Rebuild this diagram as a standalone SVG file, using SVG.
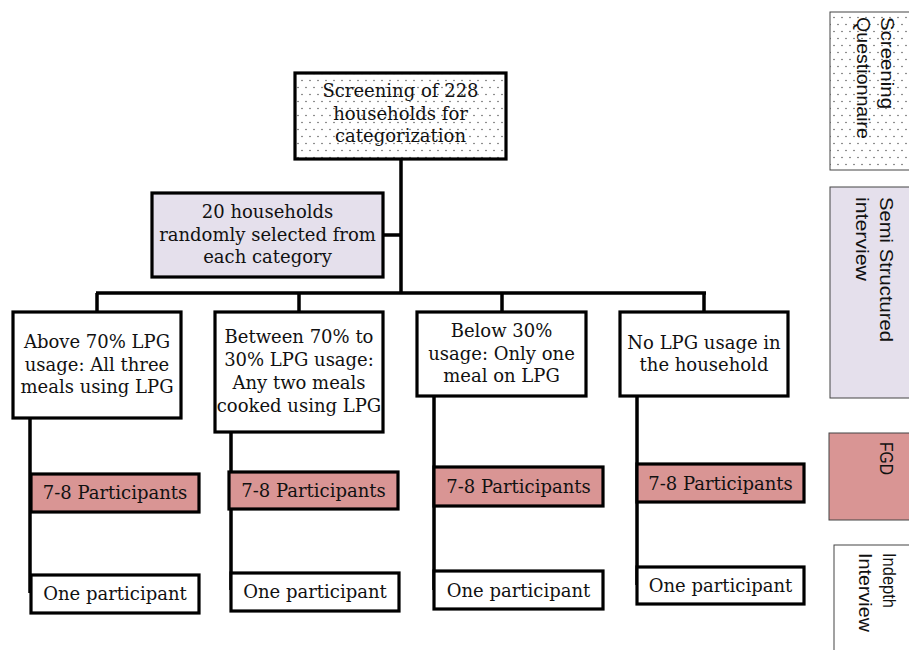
<svg xmlns="http://www.w3.org/2000/svg" width="909" height="650" viewBox="0 0 909 650">
<defs>
<pattern id="dots" width="8" height="14" patternUnits="userSpaceOnUse">
<rect width="8" height="14" fill="#fff"/>
<circle cx="2" cy="3.5" r="0.75" fill="#555"/>
<circle cx="6" cy="10.5" r="0.75" fill="#555"/>
</pattern>
</defs>
<style>
.box{stroke:#000;stroke-width:3.2;}
.w{fill:#fff;}
.lav{fill:#E5E0EC;}
.pink{fill:#D99594;}
.t{font-family:"DejaVu Serif","Liberation Serif",serif;font-size:18px;fill:#111;text-anchor:middle;}
.leg{stroke:#444;stroke-width:1;}
.lt{font-family:"Liberation Sans",Arial,sans-serif;font-size:18px;fill:#111;}
.c{fill:none;stroke:#000;stroke-width:3.5;}
</style>
<g id="connectors">
<path class="c" d="M401 159V293M383 235H401M96 293H706M97 293V312M299 293V312M502 293V312M704 293V312"/>
<path class="c" d="M30 418V593M231 432V590M434 396V590M637 396V585"/>
</g>
<g id="screening">
<rect class="box" x="295" y="73" width="211" height="86" fill="url(#dots)"/>
<text class="t" x="400.5" y="97">Screening of 228</text>
<text class="t" x="400.5" y="120">households for</text>
<text class="t" x="400.5" y="142">categorization</text>
</g>
<g id="selected">
<rect class="box lav" x="152" y="193" width="231" height="84"/>
<text class="t" x="267.5" y="218">20 households</text>
<text class="t" x="267.5" y="241">randomly selected from</text>
<text class="t" x="267.5" y="263">each category</text>
</g>
<g id="cat1">
<rect class="box w" x="13" y="312" width="168" height="106"/>
<text class="t" x="97" y="348">Above 70% LPG</text>
<text class="t" x="97" y="371">usage: All three</text>
<text class="t" x="97" y="393">meals using LPG</text>
</g>
<g id="cat2">
<rect class="box w" x="215" y="312" width="168" height="120"/>
<text class="t" x="299" y="343">Between 70% to</text>
<text class="t" x="299" y="366">30% LPG usage:</text>
<text class="t" x="299" y="389">Any two meals</text>
<text class="t" x="299" y="412">cooked using LPG</text>
</g>
<g id="cat3">
<rect class="box w" x="417" y="312" width="169" height="84"/>
<text class="t" x="501.5" y="337">Below 30%</text>
<text class="t" x="501.5" y="360">usage: Only one</text>
<text class="t" x="501.5" y="382">meal on LPG</text>
</g>
<g id="cat4">
<rect class="box w" x="620" y="312" width="168" height="84"/>
<text class="t" x="704" y="349">No LPG usage in</text>
<text class="t" x="704" y="371">the household</text>
</g>
<g id="fgd1"><rect class="box pink" x="31" y="474" width="168" height="38"/><text class="t" x="115" y="499">7-8 Participants</text></g>
<g id="fgd2"><rect class="box pink" x="229" y="472" width="169" height="37"/><text class="t" x="313.5" y="497">7-8 Participants</text></g>
<g id="fgd3"><rect class="box pink" x="434" y="467" width="169" height="39"/><text class="t" x="518.5" y="493">7-8 Participants</text></g>
<g id="fgd4"><rect class="box pink" x="637" y="464" width="167" height="38"/><text class="t" x="720.5" y="490">7-8 Participants</text></g>
<g id="idi1"><rect class="box w" x="31" y="575" width="168" height="38"/><text class="t" x="115" y="600">One participant</text></g>
<g id="idi2"><rect class="box w" x="231" y="573" width="168" height="38"/><text class="t" x="315" y="598">One participant</text></g>
<g id="idi3"><rect class="box w" x="434" y="571" width="169" height="38"/><text class="t" x="518.5" y="597">One participant</text></g>
<g id="idi4"><rect class="box w" x="637" y="567" width="167" height="37"/><text class="t" x="720.5" y="592">One participant</text></g>
<g id="legend-screening">
<rect class="leg" x="830" y="12" width="90" height="158" fill="url(#dots)"/>
<text class="lt" transform="translate(881,17) rotate(90)" textLength="92" lengthAdjust="spacingAndGlyphs">Screening</text>
<text class="lt" transform="translate(857,17) rotate(90)" textLength="122" lengthAdjust="spacingAndGlyphs">Questionnaire</text>
</g>
<g id="legend-semi">
<rect class="leg lav" x="830" y="187" width="90" height="211"/>
<text class="lt" transform="translate(880,197) rotate(90)" textLength="145" lengthAdjust="spacingAndGlyphs">Semi Structured</text>
<text class="lt" transform="translate(856,197) rotate(90)" textLength="84" lengthAdjust="spacingAndGlyphs">interview</text>
</g>
<g id="legend-fgd">
<rect class="leg pink" x="829" y="433" width="90" height="87"/>
<text class="lt" transform="translate(880,442) rotate(90)" textLength="33" lengthAdjust="spacingAndGlyphs">FGD</text>
</g>
<g id="legend-idi">
<rect class="leg w" x="834" y="545" width="90" height="115"/>
<text class="lt" transform="translate(883,553) rotate(90)" textLength="55" lengthAdjust="spacingAndGlyphs">Indepth</text>
<text class="lt" transform="translate(859,553) rotate(90)" textLength="79" lengthAdjust="spacingAndGlyphs">Interview</text>
</g>
</svg>
